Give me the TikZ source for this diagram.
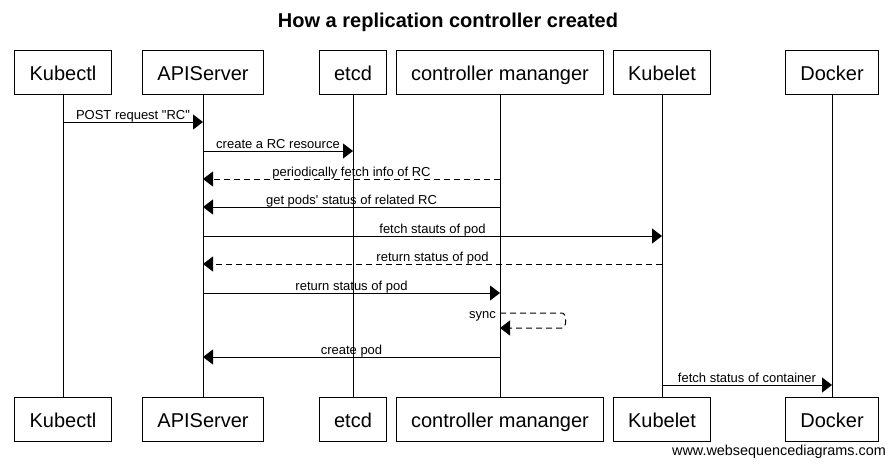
\documentclass[tikz,border=0pt]{standalone}
\usepackage{fontspec}
\newfontfamily\arial{Liberation Sans}
\usetikzlibrary{arrows.meta,calc}
\tikzset{
  actor/.style={draw, line width=1pt, minimum height=44pt, inner xsep=15pt, inner ysep=0pt,
    text height=17pt, text depth=0pt,
    font=\arial\fontsize{20}{24}\selectfont, fill=white},
  life/.style={line width=1pt},
  msg/.style={line width=1pt, -{Triangle[length=10pt,width=15pt]}},
  ret/.style={msg, dash pattern=on 6pt off 4pt},
  lbl/.style={font=\arial\fontsize{13}{15}\selectfont, inner sep=0pt, anchor=base, yshift=2.5pt},
  title/.style={font=\arial\bfseries\fontsize{20}{24}\selectfont, inner sep=0pt, anchor=base},
  credit/.style={font=\arial\fontsize{14.4}{16}\selectfont, inner sep=0pt, anchor=base east}
}
\begin{document}
\begin{tikzpicture}[x=1pt,y=-1pt]
\useasboundingbox (0,0) rectangle (892,467);
\node[title] (ttl) at (448,27) {How a replication controller created};
\node[actor] (kt) at (63,72) {Kubectl};
\node[actor] (api) at (203,72) {APIServer};
\node[actor] (etcd) at (353,72) {etcd};
\node[actor] (cm) at (500,72) {controller mananger};
\node[actor] (kl) at (662,72) {Kubelet};
\node[actor] (dk) at (832,72) {Docker};
\node[actor] (ktb) at (63,419) {Kubectl};
\node[actor] (apib) at (203,419) {APIServer};
\node[actor] (etcdb) at (353,419) {etcd};
\node[actor] (cmb) at (500,419) {controller mananger};
\node[actor] (klb) at (662,419) {Kubelet};
\node[actor] (dkb) at (832,419) {Docker};
\draw[life] (kt) -- (ktb);
\draw[life] (api) -- (apib);
\draw[life] (etcd) -- (etcdb);
\draw[life] (cm) -- (cmb);
\draw[life] (kl) -- (klb);
\draw[life] (dk) -- (dkb);
\draw[msg] (kt |- 0,122) -- node[lbl] {POST request "RC"} (api |- 0,122);
\draw[msg] (api |- 0,151) -- node[lbl] {create a RC resource} (etcd |- 0,151);
\draw[ret] (cm |- 0,179) -- node[lbl] {periodically fetch info of RC} (api |- 0,179);
\draw[msg] (cm |- 0,207) -- node[lbl] {get pods' status of related RC} (api |- 0,207);
\draw[msg] (api |- 0,236) -- node[lbl] {fetch stauts of pod} (kl |- 0,236);
\draw[ret] (kl |- 0,264) -- node[lbl] {return status of pod} (api |- 0,264);
\draw[msg] (api |- 0,293) -- node[lbl] {return status of pod} (cm |- 0,293);
\coordinate (s1) at (cm |- 0,313);
\coordinate (s2) at (cm |- 0,328);
\draw[ret] (s1) -- ($(s1)+(62,0)$) .. controls +(5,0) and +(5,0) .. ($(s2)+(62,0)$) -- (s2);
\node[font=\arial\fontsize{13}{15}\selectfont, inner sep=0pt, anchor=base east] (sync) at ($(s1)+(-4,5)$) {sync};
\draw[msg] (cm |- 0,357) -- node[lbl] {create pod} (api |- 0,357);
\draw[msg] (kl |- 0,385) -- node[lbl] {fetch status of container} (dk |- 0,385);
\node[credit] (web) at (886,455) {www.websequencediagrams.com};
\end{tikzpicture}
\end{document}
